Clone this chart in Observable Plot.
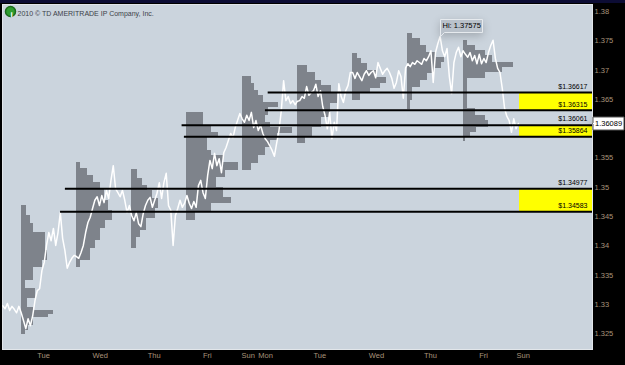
<!DOCTYPE html>
<html>
<head>
<meta charset="utf-8">
<script src="https://cdn.jsdelivr.net/npm/d3@7"></script>
<script src="https://cdn.jsdelivr.net/npm/@observablehq/plot@0.6"></script>
<style>
  html, body { margin: 0; padding: 0; background: #000; }
  #chart svg { display: block; }
</style>
</head>
<body>
<div id="chart"></div>
<script>
// ---- Data (x = hours from the Tuesday session open, 17:00 ET Monday) ----
const priceStartHour = -8;
const prices = [
  // Mon
  1.3298,1.3293,1.3302,1.3290,1.3297,1.3292,1.3286,1.3297,
  // Tue
  1.3286,1.3273,1.3259,1.3276,1.3264,1.3281,1.3307,1.3324,1.3327,1.3358,1.3372,1.3401,
  1.3423,1.3409,1.3430,1.3401,1.3423,1.3457,1.3413,1.3392,1.3362,1.3372,1.3379,1.3384,
  // Wed
  1.3382,1.3379,1.3389,1.3401,1.3423,1.3440,1.3449,1.3464,1.3478,1.3484,1.3469,1.3486,
  1.3474,1.3495,1.3481,1.3512,1.3537,1.3498,1.3491,1.3484,1.3495,1.3478,1.3457,1.3469,
  // Thu
  1.3452,1.3443,1.3457,1.3438,1.3433,1.3455,1.3469,1.3478,1.3483,1.3466,1.3478,1.3490,
  1.3508,1.3481,1.3508,1.3524,1.3469,1.3461,1.3401,1.3452,1.3464,1.3478,1.3466,1.3473,
  // Fri
  1.3486,1.3473,1.3464,1.3476,1.3466,1.3503,1.3512,1.3491,1.3481,1.3520,1.3546,1.3532,
  1.3558,1.3537,1.3549,1.3525,1.3559,1.3568,1.3580,1.3592,1.3585,1.3602,1.3614,1.3626,
  // Mon (week 2)
  1.3617,1.3611,1.3623,1.3614,1.3628,1.3602,1.3614,1.3597,1.3606,1.3592,1.3583,1.3578,
  1.3571,1.3563,1.3553,1.3576,1.3597,1.3631,1.3682,1.3648,1.3655,1.3643,1.3648,1.3641,
  // Tue
  1.3647,1.3648,1.3655,1.3652,1.3672,1.3657,1.3662,1.3665,1.3676,1.3655,1.3665,1.3638,
  1.3623,1.3600,1.3628,1.3583,1.3611,1.3597,1.3677,1.3655,1.3645,1.3665,1.3674,1.3696,
  // Wed
  1.3696,1.3686,1.3696,1.3689,1.3682,1.3693,1.3699,1.3691,1.3696,1.3699,1.3687,1.3713,
  1.3703,1.3693,1.3699,1.3703,1.3696,1.3686,1.3669,1.3679,1.3699,1.3689,1.3652,1.3704,
  // Thu
  1.3711,1.3706,1.3713,1.3710,1.3716,1.3713,1.3710,1.3720,1.3716,1.3723,1.3733,1.3679,
  1.3730,1.3745,1.37575,1.3733,1.3723,1.3737,1.3689,1.3660,1.3713,1.3730,1.3739,1.3723,
  // Fri
  1.3733,1.3727,1.3722,1.3730,1.3716,1.3725,1.3711,1.3727,1.3711,1.3720,1.3713,1.3730,
  1.3742,1.3751,1.3720,1.3703,1.3696,1.3669,1.3635,1.3621,1.3614,1.3594,1.3617,1.3600,
  1.36089
];

// Market profiles: session open hour and [high, low, tpo count]
const sessionStarts = [0, 24, 48, 72, 96, 120, 144, 168, 192];
const profTue = [[1.3469,1.3452,5],[1.3452,1.3438,8],[1.3438,1.3423,11],[1.3423,1.3392,22],[1.3392,1.3375,24],[1.3375,1.3363,19],[1.3363,1.3341,11],[1.3341,1.3327,4],[1.3327,1.3310,13],[1.3310,1.3295,6],[1.3295,1.3290,11],[1.3290,1.3283,29],[1.3283,1.3278,25],[1.3278,1.3264,11],[1.3264,1.3256,7],[1.3256,1.3249,4]];
const profWed = [[1.3542,1.3532,4],[1.3532,1.3520,10],[1.3520,1.3508,15],[1.3508,1.3498,22],[1.3498,1.3478,25],[1.3478,1.3461,29],[1.3461,1.3444,33],[1.3444,1.3430,26],[1.3430,1.3409,22],[1.3409,1.3396,17],[1.3396,1.3375,13],[1.3375,1.3363,4]];
const profThu = [[1.3531,1.3515,5],[1.3515,1.3503,10],[1.3503,1.3495,14],[1.3495,1.3481,19],[1.3481,1.3464,24],[1.3464,1.3447,22],[1.3447,1.3426,13],[1.3426,1.3415,8],[1.3415,1.3396,4]];
const profFri = [[1.3628,1.3606,15],[1.3606,1.3594,22],[1.3594,1.3585,29],[1.3585,1.3563,19],[1.3563,1.3554,22],[1.3554,1.3542,33],[1.3542,1.3529,47],[1.3529,1.3517,35],[1.3517,1.3500,27],[1.3500,1.3483,33],[1.3483,1.3473,40],[1.3473,1.3457,22],[1.3457,1.3444,8]];
const profMon2 = [[1.3689,1.3677,8],[1.3677,1.3665,11],[1.3665,1.3657,15],[1.3657,1.3645,19],[1.3645,1.3636,33],[1.3636,1.3623,24],[1.3623,1.3611,21],[1.3611,1.3602,26],[1.3602,1.3592,46],[1.3592,1.3580,32],[1.3580,1.3568,26],[1.3568,1.3554,21],[1.3554,1.3541,15],[1.3541,1.3529,8]];
const profTue2 = [[1.3708,1.3696,9],[1.3696,1.3682,16],[1.3682,1.3674,22],[1.3674,1.3660,31],[1.3660,1.3643,36],[1.3643,1.3619,30],[1.3619,1.3602,22],[1.3602,1.3585,14],[1.3585,1.3575,7]];
const profWed2 = [[1.3728,1.3720,4],[1.3720,1.3711,8],[1.3711,1.3699,13],[1.3699,1.3687,22],[1.3687,1.3677,31],[1.3677,1.3669,25],[1.3669,1.3662,16],[1.3662,1.3648,7]];
const profThu2 = [[1.3763,1.3754,4],[1.3754,1.3742,11],[1.3742,1.3730,17],[1.3730,1.3722,26],[1.3722,1.3713,33],[1.3713,1.3703,30],[1.3703,1.3694,24],[1.3694,1.3682,18],[1.3682,1.3670,11],[1.3670,1.3648,4],[1.3648,1.3633,2]];
const profFri2 = [[1.3751,1.3742,4],[1.3742,1.3734,11],[1.3734,1.3725,20],[1.3725,1.3713,27],[1.3713,1.3705,46],[1.3705,1.3696,36],[1.3696,1.3686,20],[1.3686,1.3635,4],[1.3635,1.3623,11],[1.3623,1.3614,20],[1.3614,1.3602,23],[1.3602,1.3594,12],[1.3594,1.3585,7],[1.3585,1.3578,2]];
const profiles = [profTue, profWed, profThu, profFri, profMon2, profTue2, profWed2, profThu2, profFri2];

// Support / resistance levels and where each line begins (hour)
const levelPrices = [1.36617, 1.36315, 1.36061, 1.35864, 1.34977, 1.34583];
const levelStarts = [107.3, 106.1, 69.9, 70.9, 19.2, 17.1];
const zonePairs = [[1.36617, 1.36315], [1.36061, 1.35864], [1.34977, 1.34583]];
const zoneStart = 216.4;

const lastPrice = 1.36089;
const highPrice = 1.37575;
const highHour = 182;

// Axis ticks (the 1.36 label sits under the last-price box)
const xTickHours = [7, 31, 55, 79, 95.7, 103, 127, 151, 175, 199, 215.2];
const xTickLabels = ["Tue", "Wed", "Thu", "Fri", "Sun", "Mon", "Tue", "Wed", "Thu", "Fri", "Sun"];
const yTicks = [1.325, 1.33, 1.335, 1.34, 1.345, 1.35, 1.355, 1.365, 1.37, 1.375, 1.38];
const copyright = "2010 \u00A9 TD AMERITRADE IP Company, Inc.";

// ---- Derived tables ----
const priceData = prices.map((p, i) => ({h: priceStartHour + i, p}));
const TPO_HOURS = 0.48;
const profileData = profiles.flatMap((rows, k) =>
  rows.map(([hi, lo, n]) => ({x1: sessionStarts[k], x2: sessionStarts[k] + n * TPO_HOURS, hi, lo})));
const levels = levelPrices.map((p, i) => ({p, start: levelStarts[i]}));
const zones = zonePairs.map(([hi, lo]) => ({hi, lo}));
const xDomain = [-8.12, 248.2];
const xEnd = xDomain[1];
const tickLabel = new Map(xTickHours.map((h, i) => [h, xTickLabels[i]]));
const axisColor = "#a8937a";

const chart = Plot.plot({
  width: 625,
  height: 365,
  marginLeft: 2,
  marginRight: 33,
  marginTop: 4,
  marginBottom: 16,
  x: {domain: xDomain},
  y: {domain: [1.32234, 1.3812]},
  style: {
    background: "linear-gradient(#0c0c34 0px, #0c0c34 3px, #000 3px)",
    color: "black",
    fontFamily: "'Liberation Sans', Arial, sans-serif",
    fontSize: "8px"
  },
  marks: [
    Plot.frame({fill: "#cbd4dd", stroke: "#e2e6ea"}),
    Plot.rect(profileData, {x1: "x1", x2: "x2", y1: "lo", y2: "hi", fill: "#7e838b", shapeRendering: "crispEdges"}),
    Plot.line(priceData, {x: "h", y: "p", stroke: "white", strokeWidth: 1.5}),
    Plot.rect(zones, {x1: zoneStart, x2: xEnd, y1: "lo", y2: "hi", fill: "#ffff00", shapeRendering: "crispEdges"}),
    Plot.ruleY(levels, {y: "p", x1: "start", x2: xEnd, stroke: "black", strokeWidth: 2}),
    Plot.text(levels, {y: "p", x: xEnd, text: d => "$" + d.p.toFixed(5), textAnchor: "end", dx: -5, dy: -6, fill: "black", fontSize: 7}),
    Plot.axisX({ticks: xTickHours, tickFormat: d => tickLabel.get(d), tickSize: 0, tickPadding: 3, textAnchor: "start", color: axisColor, fontSize: 7.5}),
    Plot.axisY({anchor: "right", ticks: yTicks, tickFormat: d3.format(".3~f"), tickSize: 0, tickPadding: 2, color: axisColor, fontSize: 7.5}),
    Plot.tip([{h: highHour, p: highPrice}], {x: "h", y: "p", title: d => "Hi: " + d.p.toFixed(5), anchor: "bottom-left", pointerSize: 4, textPadding: 2, fontSize: 7.5, fill: "#b9c1ca", stroke: "#e6eaee"}),
    Plot.tip([{p: lastPrice}], {x: () => xEnd, y: "p", title: d => d.p.toFixed(5), anchor: "left", pointerSize: 1, textPadding: 2, fontSize: 7.5, fill: "white", stroke: "#555"}),
    Plot.dot([copyright], {frameAnchor: "top-left", dx: 8, dy: 7, r: 5, fill: "#2f9e2f", stroke: "#1d6b1d"}),
    Plot.text(["i"], {frameAnchor: "top-left", dx: 8, dy: 7, fill: "white", fontWeight: "bold", fontSize: 8}),
    Plot.text([copyright], {frameAnchor: "top-left", dx: 15, dy: 7, textAnchor: "start", fill: "#3c4249", fontSize: 7})
  ]
});
document.getElementById("chart").append(chart);
</script>
</body>
</html>
